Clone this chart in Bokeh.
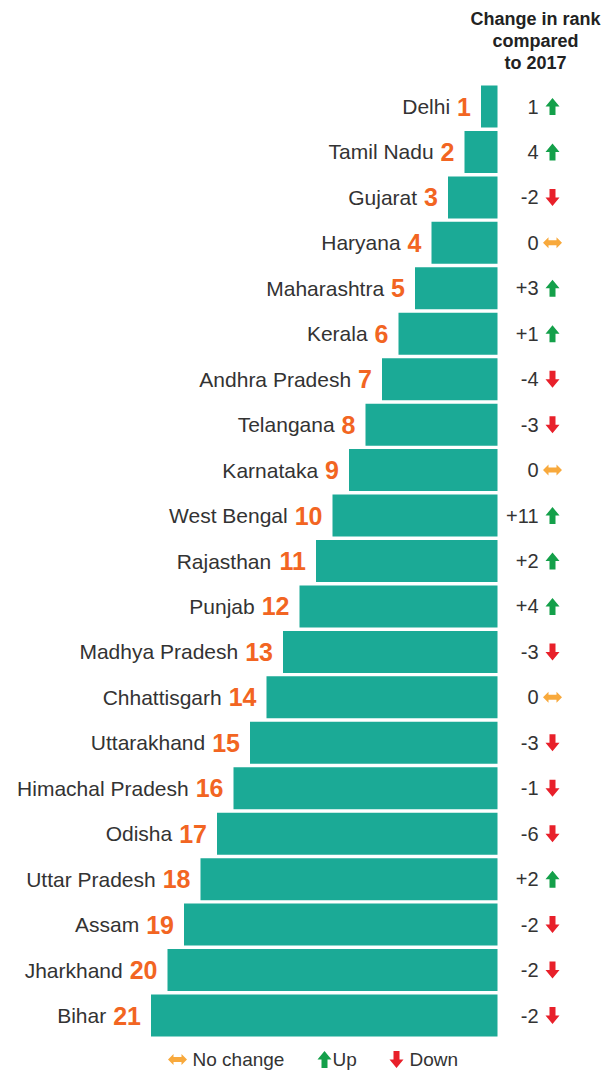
from bokeh.plotting import figure
from bokeh.models import Range1d, ColumnDataSource
from bokeh.core.properties import value
from bokeh.embed import file_html
from bokeh.resources import INLINE

# ---------------- data ----------------
states = ["Delhi", "Tamil Nadu", "Gujarat", "Haryana", "Maharashtra", "Kerala",
          "Andhra Pradesh", "Telangana", "Karnataka", "West Bengal", "Rajasthan",
          "Punjab", "Madhya Pradesh", "Chhattisgarh", "Uttarakhand",
          "Himachal Pradesh", "Odisha", "Uttar Pradesh", "Assam", "Jharkhand", "Bihar"]
ranks = [1, 2, 3, 4, 5, 6, 7, 8, 9, 10, 11, 12, 13, 14, 15, 16, 17, 18, 19, 20, 21]
change_labels = ["1", "4", "-2", "0", "+3", "+1", "-4", "-3", "0", "+11", "+2",
                 "+4", "-3", "0", "-3", "-1", "-6", "+2", "-2", "-2", "-2"]
directions = ["up", "up", "down", "same", "up", "up", "down", "down", "same", "up",
              "up", "up", "down", "same", "down", "down", "down", "up", "down",
              "down", "down"]
legend_labels = ["No change", "Up", "Down"]
legend_kinds = ["same", "up", "down"]
header_lines = ["Change in rank", "compared", "to 2017"]

# ---------------- styles ----------------
BAR = "#1baa96"
ORANGE = "#f26522"
TEXT = "#333333"
COLORS = {"up": "#14a04a", "down": "#e8202a", "same": "#f8a93c"}
FONT = value("Liberation Sans")

W, H = 604, 1070
ORIGIN = 0       # page offset of the figure's top-left corner
PX_X = 16.5      # pixels per rank unit
PX_Y = 45.45     # pixels per row
X0_PAGE = 497    # page x of bar right edge
Y0_PAGE = 106    # page y of first row centre
NUM_SIZE = 25
NUM_GAP = 10

def dx(page_x):
    return (page_x - X0_PAGE) / PX_X

def dy(page_y):
    return (page_y - Y0_PAGE) / PX_Y

p = figure(width=W, height=H, output_backend="svg", toolbar_location=None,
           x_axis_type=None, y_axis_type=None,
           x_range=Range1d(dx(ORIGIN), dx(ORIGIN + W)),
           y_range=Range1d(dy(ORIGIN + H), dy(ORIGIN)),
           min_border=0, outline_line_color=None,
           background_fill_color="white", border_fill_color="white")
p.grid.visible = False

rows = list(range(len(states)))
num_w = [len(str(r)) * 0.556 * NUM_SIZE for r in ranks]
src = ColumnDataSource(dict(
    y=rows, left=[-r for r in ranks], right=[0] * len(ranks),
    state=states, rank=[str(r) for r in ranks],
    name_off=[-(NUM_GAP + w + 7) for w in num_w],
    chg=change_labels,
))

p.hbar(y="y", left="left", right="right", height=42 / PX_Y, source=src,
       fill_color=BAR, line_color=None)

p.text(x="left", y="y", text="rank", source=src, x_offset=-NUM_GAP,
       text_align="right", text_baseline="middle", text_font=FONT,
       text_font_style="bold", text_font_size=f"{NUM_SIZE}px", text_color=ORANGE)
p.text(x="left", y="y", text="state", source=src, x_offset="name_off",
       text_align="right", text_baseline="middle", text_font=FONT,
       text_font_size="21px", text_color=TEXT)

chg_x = dx(538)
p.text(x=[chg_x] * len(rows), y=rows, text=change_labels,
       text_align="right", text_baseline="middle", text_font=FONT,
       text_font_size="20px", text_color=TEXT)

def arrow_shape(kind, cx, cy):
    if kind == "up":
        pts = [(0, -8.5), (7, 0), (3, 0), (3, 8.5), (-3, 8.5), (-3, 0), (-7, 0)]
    elif kind == "down":
        pts = [(0, 8.5), (7, 0), (3, 0), (3, -8.5), (-3, -8.5), (-3, 0), (-7, 0)]
    else:
        pts = [(-9.5, 0), (-4, -5.5), (-4, -2.5), (4, -2.5), (4, -5.5), (9.5, 0),
               (4, 5.5), (4, 2.5), (-4, 2.5), (-4, 5.5)]
    xs = [cx + px / PX_X for px, _ in pts]
    ys = [cy + py / PX_Y for _, py in pts]
    return xs, ys

ax_list, ay_list, ac_list = [], [], []
arrow_x = dx(552)
for r, k in zip(rows, directions):
    xs, ys = arrow_shape(k, arrow_x, r)
    ax_list.append(xs); ay_list.append(ys); ac_list.append(COLORS[k])

# legend
leg_y = dy(1059)
leg_arrow_px = [177, 324, 396]
leg_text_px = [192, 332, 409]
for k, apx in zip(legend_kinds, leg_arrow_px):
    xs, ys = arrow_shape(k, dx(apx), leg_y)
    ax_list.append(xs); ay_list.append(ys); ac_list.append(COLORS[k])

p.patches(xs=ax_list, ys=ay_list, fill_color=ac_list, line_color=None)

p.text(x=[dx(t) for t in leg_text_px], y=[leg_y] * 3, text=legend_labels,
       text_align="left", text_baseline="middle", text_font=FONT,
       text_font_size="19px", text_color=TEXT)

# header
p.text(x=[dx(535)] * 3, y=[dy(18), dy(40), dy(62)], text=header_lines,
       text_align="center", text_baseline="middle", text_font=FONT,
       text_font_style="bold", text_font_size="18px", text_color="#222222")

open("out.html", "w").write(file_html(p, INLINE))
